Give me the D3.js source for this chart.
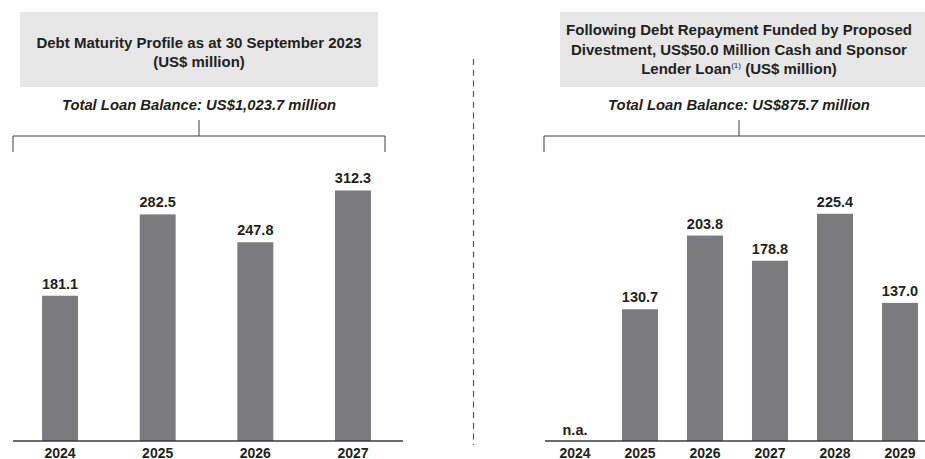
<!DOCTYPE html>
<html><head><meta charset="utf-8">
<script src="https://cdn.jsdelivr.net/npm/d3@7"></script>
<style>body{margin:0;background:#fff}svg{display:block}text{font-family:"Liberation Sans",Arial,sans-serif;fill:#231f20}</style>
</head><body><svg id="c" width="925" height="459"></svg>
<script>
const leftYears = ["2024","2025","2026","2027"];
const leftValues = [181.1, 282.5, 247.8, 312.3];
const rightYears = ["2024","2025","2026","2027","2028","2029"];
const rightValues = [null, 130.7, 203.8, 178.8, 225.4, 137.0];
const leftTitle = ["Debt Maturity Profile as at 30 September 2023", "(US$ million)"];
const rightTitle = ["Following Debt Repayment Funded by Proposed", "Divestment, US$50.0 Million Cash and Sponsor"];
const leftTotal = "Total Loan Balance: US$1,023.7 million";
const rightTotal = "Total Loan Balance: US$875.7 million";
const naLabel = "n.a.";

const svg = d3.select("#c");
const BAR = "#7b7b7f", BOX = "#e6e6e7", LINE = "#3a3a3a";
const base = 441;
const TFS = 15, LFS = 14.5;

function panel(o){
  const g = svg.append("g");
  g.append("rect").attr("x",o.box[0]).attr("y",12).attr("width",o.box[1]-o.box[0]).attr("height",75).attr("fill",BOX);
  o.titleLines.forEach((t,i)=>{
    g.append("text").attr("x",o.tx).attr("y",o.ty+i*o.lh).attr("text-anchor","middle")
     .attr("font-size",TFS).attr("font-weight","bold").text(t);
  });
  if(o.extra) o.extra(g);
  g.append("text").attr("x",o.bx).attr("y",110).attr("text-anchor","middle")
   .attr("font-size",14.8).attr("font-weight","bold").attr("font-style","italic").text(o.total);
  g.append("path").attr("fill","none").attr("stroke",LINE).attr("stroke-width",1)
   .attr("d",`M${o.bx},120V136M${o.br[0]},152V136H${o.br[1]}${o.br[2]?"V152":""}`);
  const x = d3.scaleBand().domain(o.years).range(o.xr).paddingInner(o.pi).paddingOuter(o.pi/2);
  const y = d3.scaleLinear().domain([0,o.ymax]).range([base,141]);
  const data = o.years.map((yr,i)=>({yr,v:o.values[i]}));
  g.selectAll(".bar").data(data.filter(d=>d.v!=null)).join("rect")
   .attr("x",d=>x(d.yr)).attr("width",x.bandwidth()).attr("y",d=>y(d.v)).attr("height",d=>base-y(d.v)).attr("fill",BAR);
  g.selectAll(".lab").data(data).join("text")
   .attr("x",d=>x(d.yr)+x.bandwidth()/2).attr("y",d=>d.v==null?435:y(d.v)-7)
   .attr("text-anchor","middle").attr("font-size",LFS).attr("font-weight","bold")
   .text(d=>d.v==null?naLabel:d.v.toFixed(1));
  const ax = g.append("g").attr("transform",`translate(0,${base})`)
   .call(d3.axisBottom(x).tickSize(0).tickPadding(0));
  ax.select(".domain").attr("d",`M${o.ax[0]},0H${o.ax[1]}`).attr("stroke",LINE).attr("stroke-width",1.5);
  ax.selectAll("text").attr("font-size",14).attr("font-weight","bold").attr("fill","#231f20")
   .attr("font-family","Liberation Sans, Arial, sans-serif").attr("y",16.5).attr("dy",null);
}

panel({box:[20,378], titleLines:leftTitle, tx:199, ty:48, lh:19, 
  total:leftTotal, bx:199, br:[13,385,true], years:leftYears, values:leftValues,
  xr:[11.2,401.8], pi:0.632, ymax:374, ax:[13,403]});

panel({box:[560,925], titleLines:rightTitle, tx:739, ty:35, lh:19.5,
  total:rightTotal, bx:739, br:[544,925,false], years:rightYears, values:rightValues,
  xr:[542.5,932.5], pi:0.446, ymax:297.6, ax:[545,925],
  extra:g=>{
    const t = g.append("text").attr("x",739).attr("y",74).attr("text-anchor","middle").attr("font-size",TFS).attr("font-weight","bold");
    t.append("tspan").text("Lender Loan");
    t.append("tspan").attr("font-size",8).attr("font-weight","normal").attr("dy",-6).text("(1)");
    t.append("tspan").attr("dy",6).text(" (US$ million)");
  }});

svg.append("line").attr("x1",473.5).attr("x2",473.5).attr("y1",59).attr("y2",445)
  .attr("stroke","#555").attr("stroke-width",1.2).attr("stroke-dasharray","6,4.7");
</script></body></html>
